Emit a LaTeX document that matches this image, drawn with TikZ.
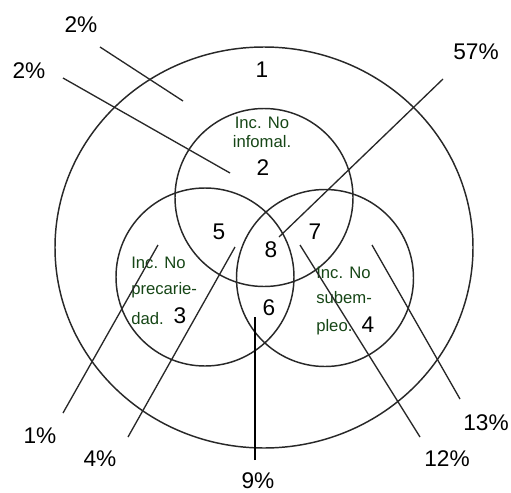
\documentclass[tikz,border=0pt]{standalone}
\usepackage{fontspec}
\setmainfont{Liberation Sans}
\definecolor{txtgreen}{RGB}{22,70,22}
\definecolor{linegray}{RGB}{40,40,40}
\begin{document}
\begin{tikzpicture}[x=0.75pt,y=-0.75pt,
  ring/.style={draw=linegray,line width=1.1pt},
  pointer/.style={draw=linegray,line width=1pt},
  num/.style={inner sep=0pt,font=\fontsize{17}{19}\selectfont},
  pct/.style={inner sep=0pt,font=\fontsize{17}{19}\selectfont},
  gtxt/.style={inner sep=0pt,text=txtgreen,font=\fontsize{12.5}{14}\selectfont},
  gtxtl/.style={gtxt,anchor=west}]
\path[use as bounding box] (0,0) rectangle (511,493);
% circles
\draw[ring] (264,247.5) ellipse [x radius=209, y radius=200.5];
\draw[ring] (264,197.5) circle [radius=89];
\draw[ring] (205,277) circle [radius=89];
\draw[ring] (325,278) circle [radius=88.5];
% region numbers
\node[num] (n1) at (262,70) {1};
\node[num] (n2) at (263,168) {2};
\node[num] (n5) at (219,232) {5};
\node[num] (n7) at (315,232) {7};
\node[num] (n8) at (271,250) {8};
\node[num] (n6) at (269,308) {6};
\node[num] (n3) at (180,316) {3};
\node[num] (n4) at (368,325) {4};
% green labels
\node[gtxt] (i2a) at (262,123) {Inc. No};
\node[gtxt] (i2b) at (262,142) {infomal.};
\node[gtxtl] (i3a) at (131,263) {Inc. No};
\node[gtxtl] (i3b) at (131,290) {precarie-};
\node[gtxtl] (i3c) at (131,319) {dad.};
\node[gtxtl] (i4a) at (316,273) {Inc. No};
\node[gtxtl] (i4b) at (316,298) {subem-};
\node[gtxtl] (i4c) at (316,327) {pleo.};
% percentages
\node[pct] (pA) at (81,25) {2\%};
\node[pct] (pB) at (29,71) {2\%};
\node[pct] (pC) at (476,52) {57\%};
\node[pct] (pD) at (40,436) {1\%};
\node[pct] (pE) at (100,459) {4\%};
\node[pct] (pF) at (258,481) {9\%};
\node[pct] (pG) at (447,459) {12\%};
\node[pct] (pH) at (486,423) {13\%};
% pointer ends
\coordinate (a1) at (100,47);  \coordinate (a2) at (183,101);
\coordinate (b1) at (63,78);   \coordinate (b2) at (230,173);
\coordinate (c1) at (443,79);  \coordinate (c2) at (279,237);
\coordinate (d1) at (63,413);  \coordinate (d2) at (158,245);
\coordinate (e1) at (128,437); \coordinate (e2) at (235,247);
\coordinate (f1) at (255,460); \coordinate (f2) at (255,317);
\coordinate (g1) at (420,437); \coordinate (g2) at (300,245);
\coordinate (h1) at (460,399); \coordinate (h2) at (372,245);
\draw[pointer] (a1) -- (a2);
\draw[pointer] (b1) -- (b2);
\draw[pointer] (c1) -- (c2);
\draw[pointer] (d1) -- (d2);
\draw[pointer] (e1) -- (e2);
\draw[pointer,draw=black] (f1) -- (f2);
\draw[pointer] (g1) -- (g2);
\draw[pointer] (h1) -- (h2);
\end{tikzpicture}
\end{document}
